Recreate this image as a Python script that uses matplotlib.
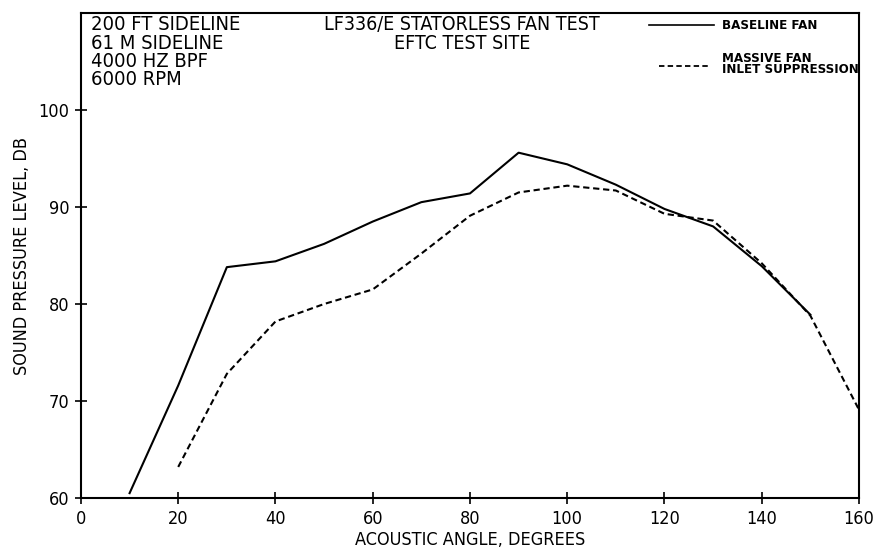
import matplotlib
matplotlib.use("Agg")
import matplotlib.pyplot as plt

plt.rcParams['font.family'] = ['DejaVu Sans']
plt.rcParams['font.stretch'] = 'condensed'

# data
angle_base = [10, 20, 30, 40, 50, 60, 70, 80, 90, 100, 110, 120, 130, 140, 150]
spl_base = [60.5, 71.6, 83.8, 84.4, 86.2, 88.5, 90.5, 91.4, 95.6, 94.4, 92.3, 89.8, 88.0, 83.9, 78.9]

angle_inlet = [20, 30, 40, 50, 60, 70, 80, 90, 100, 110, 120, 130, 140, 150, 160]
spl_inlet = [63.2, 72.8, 78.2, 80.0, 81.5, 85.2, 89.1, 91.5, 92.2, 91.7, 89.3, 88.6, 84.2, 78.8, 69.1]

x_ticks = [0, 20, 40, 60, 80, 100, 120, 140, 160]
y_ticks = [60, 70, 80, 90, 100]

fig = plt.figure(figsize=(8.83, 5.54), dpi=100)
ax = fig.add_axes([0.0917, 0.1011, 0.8811, 0.8754])

ax.plot(angle_base, spl_base, color='black', lw=1.5)
ax.plot(angle_inlet, spl_inlet, color='black', lw=1.5, ls=(0, (3, 1.8)))

ax.set_xlim(0, 160)
ax.set_ylim(60, 110)
ax.set_xticks(x_ticks)
ax.set_yticks(y_ticks)
ax.tick_params(direction='inout', length=9, width=1.2, labelsize=13, pad=4)
for s in ax.spines.values():
    s.set_linewidth(1.5)

ax.set_xlabel('ACOUSTIC ANGLE, DEGREES', fontsize=13, labelpad=2)
ax.set_ylabel('SOUND PRESSURE LEVEL, DB', fontsize=13, labelpad=5)

ax.text(0.013, 0.995, '200 FT SIDELINE\n61 M SIDELINE\n4000 HZ BPF\n6000 RPM',
        transform=ax.transAxes, ha='left', va='top', fontsize=14.5, linespacing=0.95)
ax.text(0.49, 0.995, 'LF336/E STATORLESS FAN TEST\nEFTC TEST SITE',
        transform=ax.transAxes, ha='center', va='top', fontsize=14, linespacing=0.98)

# hand-made legend in the top right corner
ax.plot([0.73, 0.814], [0.975, 0.975], transform=ax.transAxes, color='black', lw=1.2, clip_on=False)
ax.text(0.824, 0.975, 'BASELINE FAN', transform=ax.transAxes, ha='left', va='center',
        fontsize=9.5, fontweight='bold')
ax.plot([0.743, 0.81], [0.89, 0.89], transform=ax.transAxes, color='black', lw=1.3,
        ls=(0, (3, 1.8)), clip_on=False)
ax.text(0.824, 0.895, 'MASSIVE FAN\nINLET SUPPRESSION', transform=ax.transAxes, ha='left',
        va='center', fontsize=9.5, fontweight='bold', linespacing=0.85)

fig.savefig('out.png', dpi=100)
